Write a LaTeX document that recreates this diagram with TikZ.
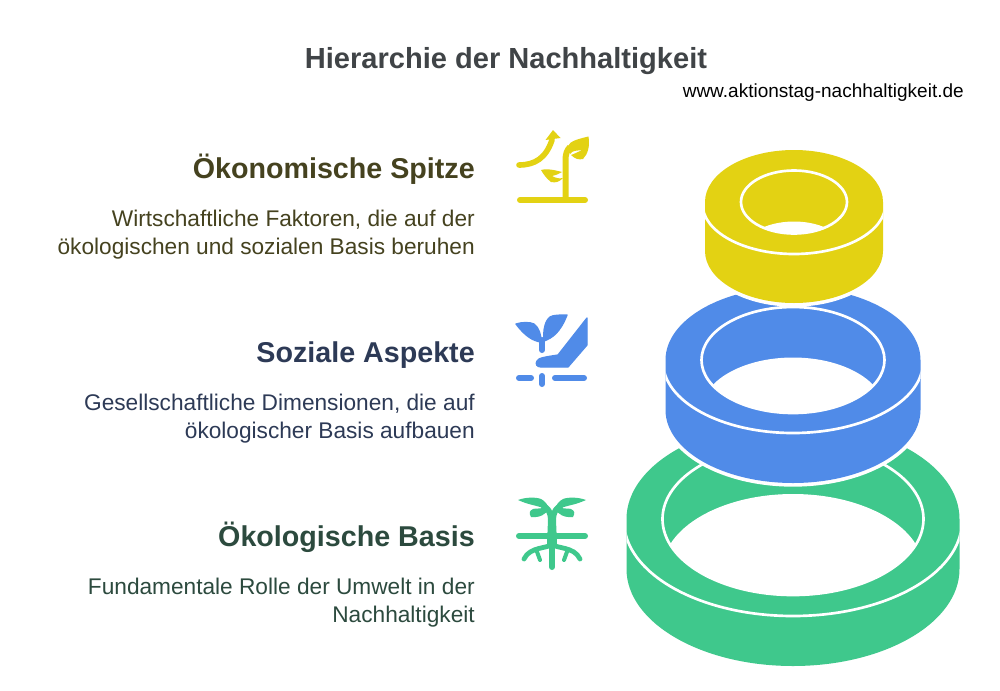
\documentclass[tikz,border=0pt]{standalone}
\usepackage{fontspec}
\setmainfont{Liberation Sans}
\definecolor{cyel}{HTML}{E3D213}
\definecolor{cblu}{HTML}{508BE8}
\definecolor{cgrn}{HTML}{3FC88C}
\definecolor{hyel}{HTML}{45421F}
\definecolor{hblu}{HTML}{2D3A56}
\definecolor{hgrn}{HTML}{2C4A3E}
\definecolor{ctitle}{HTML}{404447}
\tikzset{
  headtxt/.style={anchor=base east,inner sep=0pt,font=\fontsize{21.5pt}{25pt}\selectfont\bfseries},
  bodytxt/.style={anchor=north east,align=right,inner sep=0pt,font=\fontsize{17pt}{21pt}\selectfont},
  icoline/.style={line width=4.5pt,line cap=round,line join=round},
  icofill/.style={line width=1pt,line join=round}
}
% #1 cx #2 cy #3 rx #4 ry #5 h #6 colour #7 hole rx #8 hole ry #9 inner wall centre y
\newcommand{\myring}[9]{%
  \path[fill=#6,preaction={draw=white,line width=5.5pt}]
    (#1-#3,-#2) arc[start angle=180,end angle=0,x radius=#3,y radius=#4]
    -- (#1+#3,-#2-#5) arc[start angle=0,end angle=-180,x radius=#3,y radius=#4] -- cycle;
  \begin{scope}
    \clip (#1-#3,-#2) arc[start angle=180,end angle=0,x radius=#3,y radius=#4]
    -- (#1+#3,-#2-#5) arc[start angle=0,end angle=-180,x radius=#3,y radius=#4] -- cycle;
    \draw[white,line width=2pt] (#1+#3+2.5,-#2-2) arc[start angle=0,end angle=-180,x radius=#3+2.5,y radius=#4-2];
  \end{scope}
  \begin{scope}
    \clip (#1,-#2) ellipse[x radius=#7,y radius=#8];
    \fill[white] (#1,-#9) ellipse[x radius=#7,y radius=#8];
  \end{scope}
  \draw[white,line width=2pt] (#1,-#2) ellipse[x radius=#7,y radius=#8];
}
\begin{document}
\begin{tikzpicture}[x=0.75pt,y=0.75pt]
\useasboundingbox (0,-690) rectangle (1000,0);
\fill[white] (0,-690) rectangle (1000,0);
\node[anchor=base,inner sep=0pt,text=ctitle,font=\fontsize{21.8pt}{25pt}\selectfont\bfseries] (title) at (506,-68.5) {Hierarchie der Nachhaltigkeit};
\node[anchor=base east,inner sep=0pt,text=black,font=\fontsize{14.25pt}{17pt}\selectfont] (web) at (964,-97) {www.aktionstag-nachhaltigkeit.de};

\node[headtxt,text=hyel] (h1) at (475,-178.5) {Ökonomische Spitze};
\node[bodytxt,text=hyel] (b1) at (475,-210) {Wirtschaftliche Faktoren, die auf der\\ökologischen und sozialen Basis beruhen};
\node[headtxt,text=hblu] (h2) at (475,-362.3) {Soziale Aspekte};
\node[bodytxt,text=hblu] (b2) at (475,-393.5) {Gesellschaftliche Dimensionen, die auf\\ökologischer Basis aufbauen};
\node[headtxt,text=hgrn] (h3) at (475,-546) {Ökologische Basis};
\node[bodytxt,text=hgrn] (b3) at (475,-577.8) {Fundamentale Rolle der Umwelt in der\\Nachhaltigkeit};

\myring{793}{519}{166.5}{97}{50}{cgrn}{130.5}{76}{570}
\myring{793}{360}{127.5}{73}{50}{cblu}{91.5}{53}{410.5}
\myring{794}{202}{89}{52}{49}{cyel}{53}{31.5}{253}

% yellow icon
\draw[icoline,cyel] (520,-200) -- (585,-200);
\draw[icoline,cyel,line cap=butt] (565.5,-199) -- (565.5,-160) .. controls (565.5,-154) and (567,-150) .. (570,-147);
\fill[cyel] (568,-146) .. controls (570,-141) and (578,-139) .. (588.5,-136.5) .. controls (590,-146) and (588,-154) .. (583,-159) .. controls (579,-160) and (575,-159) .. (571,-155) .. controls (574,-154) and (578,-152) .. (582,-150) .. controls (576,-151) and (573,-150) .. (570,-154) -- cycle;
\fill[cyel] (562,-172) .. controls (558,-171) and (548,-168) .. (541,-170) .. controls (544,-175) and (546,-178) .. (551,-182) .. controls (556,-183) and (559,-182) .. (563,-178) .. controls (559,-179) and (556,-178) .. (552,-176) .. controls (556,-175) and (559,-174) .. (562,-172) -- cycle;
\draw[line width=4.2pt,line cap=round,cyel] (519,-165) .. controls (535,-165) and (546,-158) .. (552,-140);
\fill[cyel] (545.5,-140) -- (553,-130) -- (560.5,-138) -- cycle;

% blue icon
\draw[icoline,cblu] (519,-378) -- (531,-378);
\draw[icoline,cblu] (555,-378) -- (584,-378);
\draw[icoline,cblu] (542,-376) -- (542,-384);
\fill[cblu,draw=cblu,icofill] (587,-318) -- (587,-345) -- (568,-367) -- (541,-367) .. controls (537,-367) and (535,-364) .. (537,-361) .. controls (538,-358) and (545,-357) .. (558,-355) -- cycle;
\draw[icoline,cblu] (542,-340) -- (542,-350);
\fill[cblu,draw=cblu,icofill] (516,-324) .. controls (522,-322) and (530,-322) .. (534,-324) .. controls (539,-328) and (541,-334) .. (541,-342) .. controls (533,-341) and (525,-336) .. (516,-324) -- cycle;
\fill[cblu,draw=cblu,icofill] (567,-315) .. controls (560,-315) and (553,-315) .. (550,-317) .. controls (545,-321) and (543,-330) .. (544,-341) .. controls (552,-338) and (560,-333) .. (567,-315) -- cycle;

% green icon
\draw[icoline,cgrn] (519,-536) -- (585,-536);
\draw[icoline,cgrn] (552,-520) -- (552,-567);
\fill[cgrn] (547,-544) -- (548,-520) .. controls (548,-514) and (546,-510) .. (541,-508) -- (544,-503) .. controls (548,-505) and (551,-508) .. (552,-511) .. controls (553,-508) and (556,-505) .. (560,-503) -- (563,-508) .. controls (558,-510) and (556,-514) .. (556,-520) -- (557,-544) -- cycle;
\fill[cgrn] (518,-500) .. controls (526,-497) and (536,-497) .. (541,-499) .. controls (545,-501) and (548,-505) .. (549,-509) .. controls (546,-514) and (540,-518) .. (531,-517) .. controls (529,-513) and (529,-511) .. (533,-509) .. controls (537,-508) and (540,-509) .. (543,-508) .. controls (535,-505) and (529,-505) .. (518,-500) -- cycle;
\fill[cgrn] (586,-500) .. controls (578,-497) and (568,-497) .. (563,-499) .. controls (559,-501) and (556,-505) .. (555,-509) .. controls (558,-514) and (564,-518) .. (573,-517) .. controls (575,-513) and (575,-511) .. (571,-509) .. controls (567,-508) and (564,-509) .. (561,-508) .. controls (569,-505) and (575,-505) .. (586,-500) -- cycle;
\draw[line width=3.6pt,cgrn,line cap=round] (552,-544) .. controls (548,-549) and (530,-546) .. (524,-559);
\draw[line width=3.6pt,cgrn,line cap=round] (552,-544) .. controls (556,-549) and (574,-546) .. (580,-559);
\draw[line width=3pt,cgrn,line cap=round] (536,-549) -- (540,-560);
\draw[line width=3pt,cgrn,line cap=round] (568,-549) -- (564,-560);
\end{tikzpicture}
\end{document}
